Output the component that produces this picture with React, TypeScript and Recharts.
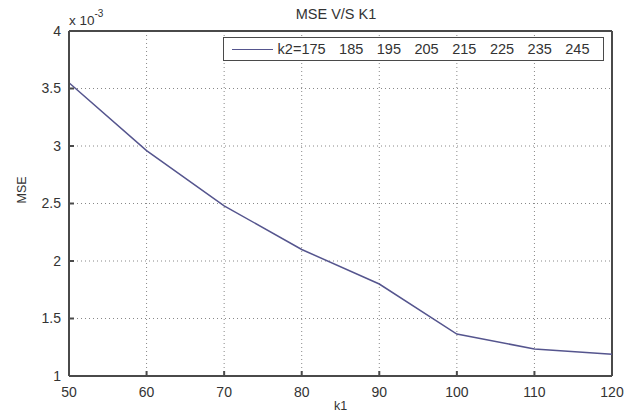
import React from 'react';
import { LineChart, Line, XAxis, YAxis, CartesianGrid, ReferenceLine } from 'recharts';

// k1 values and the MSE (x 10^-3)
const k1Values = [50, 60, 70, 80, 90, 100, 110, 120];
const mseValues = [3.55, 2.96, 2.48, 2.1, 1.8, 1.365, 1.235, 1.19];
const xTicks = [50, 60, 70, 80, 90, 100, 110, 120];
const yTicks = [1, 1.5, 2, 2.5, 3, 3.5, 4];
const xDomain = [50, 120];
const yDomain = [1, 4];
const k2Labels = ['k2=175', '185', '195', '205', '215', '225', '235', '245'];

const data = k1Values.map((k1, i) => ({ k1, mse: mseValues[i] }));

const FONT = '"Liberation Sans", Arial, Helvetica, sans-serif';
const axisColor = '#4a4a4a';
const lineColor = '#55558e';

const LegendBox = () => (
  <div
    style={{
      position: 'absolute',
      left: 223,
      top: 37,
      width: 381,
      height: 24,
      border: `1.5px solid ${axisColor}`,
      background: '#fff',
      display: 'flex',
      alignItems: 'center',
      fontSize: 14.5,
      color: '#333',
      boxSizing: 'border-box',
    }}
  >
    <div style={{ width: 50, height: 0, borderTop: `1.5px solid ${lineColor}`, marginLeft: 8, marginRight: 5 }} />
    {k2Labels.map((t) => (
      <span key={t} style={{ marginRight: 13.5, whiteSpace: 'pre' }}>{t}</span>
    ))}
  </div>
);

export default function App() {
  return (
    <div style={{ position: 'absolute', left: 0, top: 0, width: 635, height: 412, background: '#fff', fontFamily: FONT }}>
      <LineChart width={635} height={412} data={data} margin={{ top: 31, right: 23, bottom: 0, left: 9 }}>
        <CartesianGrid stroke="#888" strokeDasharray="1 3" />
        <XAxis
          dataKey="k1"
          type="number"
          domain={xDomain}
          ticks={xTicks}
          height={36}
          stroke={axisColor}
          strokeWidth={2}
          tickSize={-5}
          tickMargin={16}
          tick={{ fill: '#333', fontSize: 14, fontFamily: FONT }}
          label={{ value: 'k1', position: 'insideBottom', offset: 2, fill: '#333', fontSize: 12.5, fontFamily: FONT }}
        />
        <YAxis
          type="number"
          domain={yDomain}
          ticks={yTicks}
          width={60}
          stroke={axisColor}
          strokeWidth={2}
          tickSize={-5}
          tickMargin={13}
          tick={{ fill: '#333', fontSize: 14, fontFamily: FONT }}
          label={{ value: 'MSE', angle: -90, position: 'insideLeft', offset: 13, fill: '#333', fontSize: 12.5, fontFamily: FONT }}
        />
        <ReferenceLine x={xDomain[1]} stroke={axisColor} strokeWidth={2} ifOverflow="visible" />
        <ReferenceLine y={yDomain[1]} stroke={axisColor} strokeWidth={2} ifOverflow="visible" />
        <Line
          type="linear"
          dataKey="mse"
          stroke={lineColor}
          strokeWidth={1.5}
          dot={false}
          isAnimationActive={false}
        />
      </LineChart>
      <LegendBox />
      <div style={{ position: 'absolute', left: 276, top: 6, width: 120, textAlign: 'center', fontSize: 14.5, color: '#333' }}>
        MSE V/S K1
      </div>
      <div style={{ position: 'absolute', left: 69, top: 10, fontSize: 13.5, color: '#333' }}>
        x 10<sup style={{ fontSize: 10, position: 'relative', top: -2 }}>-3</sup>
      </div>
    </div>
  );
}
